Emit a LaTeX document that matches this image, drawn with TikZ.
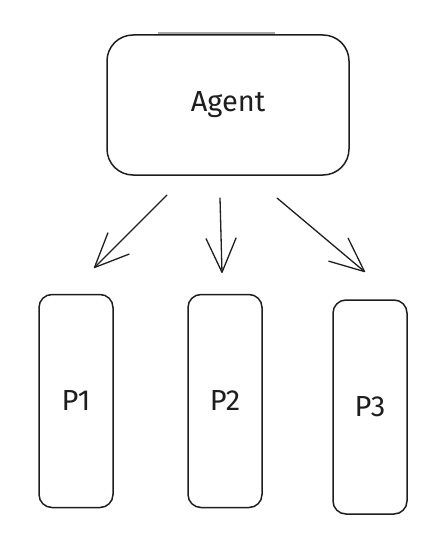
\documentclass[tikz,border=0pt]{standalone}
\usepackage{fontspec}
\setmainfont{Fira Sans}
\usepackage{tikz}
\usetikzlibrary{positioning,arrows.meta,calc}
\definecolor{ink}{HTML}{1E1E1E}

\begin{document}
\begin{tikzpicture}[x=1pt,y=-1pt,
  box/.style={draw=ink,line width=1.5pt,rounded corners=13pt,fill=white,
    inner sep=0pt,font=\fontsize{29}{34}\selectfont,text=ink},
  link/.style={draw=ink,line width=1.3pt,line cap=round,
    -{Straight Barb[length=34pt,width=30pt,round]}}]
  \useasboundingbox (0,0) rectangle (445,551);
  % top box
  \node[box,rounded corners=26pt,minimum width=242pt,minimum height=140pt] (agent) at (228,105) {Agent};
  \draw[black!35,line width=1.2pt] (158,33)--(275,33);
  % the three P boxes
  \node[box,minimum width=74pt,minimum height=213pt] (p1) at (76,401) {P1};
  \node[box,minimum width=74pt,minimum height=213pt] (p2) at (225,401) {P2};
  \node[box,minimum width=74pt,minimum height=214pt] (p3) at (370,407) {P3};
  % arrow ends
  \coordinate (s1) at (167,195); \coordinate (e1) at (94,268);
  \coordinate (s2) at (220,198); \coordinate (e2) at (222,273);
  \coordinate (s3) at (277,198); \coordinate (e3) at (365,272);
  \foreach \i in {1,2,3}{\draw[link] (s\i)--(e\i);}
\end{tikzpicture}
\end{document}
